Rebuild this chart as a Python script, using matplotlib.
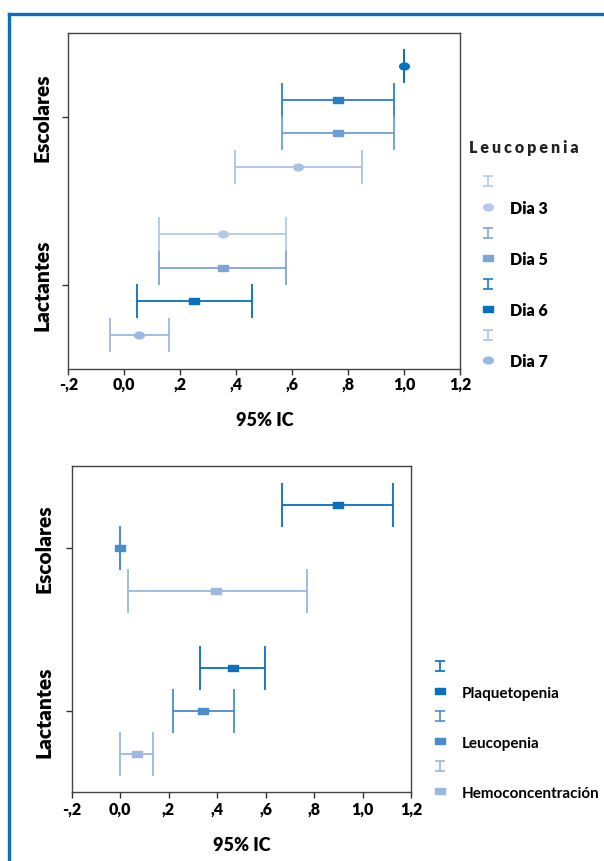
import matplotlib
matplotlib.use("Agg")
import matplotlib.pyplot as plt
from matplotlib.lines import Line2D
from matplotlib.path import Path
from matplotlib.transforms import Affine2D

# IC 95% por grupo de edad (arriba: leucopenia por dia, abajo: por hallazgo)
categories = ["Lactantes", "Escolares"]
x_ticks = [-0.2, 0.0, 0.2, 0.4, 0.6, 0.8, 1.0, 1.2]
x_tick_labels = ["-,2", "0,0", ",2", ",4", ",6", ",8", "1,0", "1,2"]

top_group = ["Escolares"] * 4 + ["Lactantes"] * 4
top_dia = ["Dia 7", "Dia 6", "Dia 5", "Dia 3", "Dia 3", "Dia 5", "Dia 6", "Dia 7"]
top_est = [1.0, 0.763, 0.763, 0.621, 0.351, 0.351, 0.249, 0.051]
top_lo = [1.0, 0.564, 0.564, 0.394, 0.123, 0.123, 0.044, -0.052]
top_hi = [1.0, 0.962, 0.962, 0.847, 0.576, 0.576, 0.456, 0.158]
top_legend = ["Dia 3", "Dia 5", "Dia 6", "Dia 7"]

bot_group = ["Escolares"] * 3 + ["Lactantes"] * 3
bot_hallazgo = ["Plaquetopenia", "Leucopenia", "Hemoconcentración"] * 2
bot_est = [0.898, 0.0, 0.397, 0.465, 0.344, 0.069]
bot_lo = [0.670, 0.0, 0.032, 0.330, 0.219, 0.0]
bot_hi = [1.125, 0.0, 0.771, 0.596, 0.468, 0.134]
bot_legend = ["Plaquetopenia", "Leucopenia", "Hemoconcentración"]

# estilos
rect = Path([(-1, -0.6), (1, -0.6), (1, 0.6), (-1, 0.6), (-1, -0.6)],
            [Path.MOVETO, Path.LINETO, Path.LINETO, Path.LINETO, Path.CLOSEPOLY])
oval = Path.unit_circle().transformed(Affine2D().scale(1, 0.7))
ibeam = Path([(-1, 1), (1, 1), (0, 1), (0, -1), (-1, -1), (1, -1)],
             [Path.MOVETO, Path.LINETO, Path.MOVETO, Path.LINETO, Path.MOVETO, Path.LINETO])

top_row_colors = ["#0a6fbd", "#2a80c8", "#6c9fd8", "#a9c3e6",
                  "#b3cae9", "#7fa5d8", "#0a6fbd", "#9bb8e2"]
top_row_markers = [oval, rect, rect, oval, oval, rect, rect, oval]
top_offsets = [0.3, 0.1, -0.1, -0.3] * 2
top_leg_cap = ["#b3cae9", "#7fa5d8", "#1f7cc4", "#a9c3e6"]
top_leg_mark = ["#b3cae9", "#7fa5d8", "#0a6fbd", "#9bb8e2"]
top_leg_shape = [oval, rect, rect, oval]

bot_colors = {"Plaquetopenia": "#0a6fbd", "Leucopenia": "#4a8ccc", "Hemoconcentración": "#9ab8e0"}
bot_offsets = [0.265, 0.0, -0.265] * 2

font = ["Lato", "DejaVu Sans"]

fig = plt.figure(figsize=(6.04, 8.62), dpi=100)

# marco azul
fig.add_artist(Line2D([8.5 / 604, 8.5 / 604], [0, 1 - 15 / 862], color="#0a6fbd", lw=2.4))
fig.add_artist(Line2D([8.5 / 604, 1], [1 - 15 / 862, 1 - 15 / 862], color="#0a6fbd", lw=2.4))


def style_axes(ax, tick_size, cat_size, label_size, cat_pad, tick_pad, lab_pad):
    ax.set_xlim(-0.2, 1.2)
    ax.set_ylim(-0.5, 1.5)
    ax.set_xticks(x_ticks)
    ax.set_xticklabels(x_tick_labels, fontsize=tick_size, fontweight="heavy", family=font)
    ax.set_yticks([0, 1])
    ax.set_yticklabels(categories, rotation=90, va="center", fontsize=cat_size,
                       fontweight="heavy", family=font)
    ax.tick_params(axis="x", length=4, width=1, color="#333333", pad=tick_pad)
    ax.tick_params(axis="y", length=4, width=1, color="#333333", pad=cat_pad)
    ax.set_xlabel("95% IC", fontsize=label_size, fontweight="heavy", family=font, labelpad=lab_pad)
    for s in ax.spines.values():
        s.set_color("#444444")
        s.set_linewidth(1.0)


# panel superior
ax1 = fig.add_axes([0.1131, 0.5713, 0.6493, 0.3898])
for i in range(len(top_est)):
    y = categories.index(top_group[i]) + top_offsets[i]
    ax1.errorbar(top_est[i], y, xerr=[[top_est[i] - top_lo[i]], [top_hi[i] - top_est[i]]],
                 fmt="none", ecolor=top_row_colors[i], elinewidth=1.3, capsize=12.2, capthick=1.3)
    ax1.plot(top_est[i], y, marker=top_row_markers[i], markersize=7, color=top_row_colors[i],
             linestyle="none")
style_axes(ax1, 11.5, 15, 13, 8, 1, 14)

handles, labels = [], []
for j, lab in enumerate(top_legend):
    handles.append(Line2D([], [], marker=ibeam, markersize=7.5, markerfacecolor="none",
                          markeredgecolor=top_leg_cap[j], markeredgewidth=1.2, linestyle="none"))
    labels.append("")
    handles.append(Line2D([], [], marker=top_leg_shape[j], markersize=7, color=top_leg_mark[j],
                          linestyle="none"))
    labels.append(lab)
fig.legend(handles, labels, loc="upper left", bbox_to_anchor=(472 / 604, 1 - 167 / 862),
           frameon=False, handlelength=1.0, handletextpad=0.9, labelspacing=0.6,
           borderpad=0, prop={"family": font, "weight": "heavy", "size": 11.5})
fig.text(469 / 604, 1 - 148 / 862, "\u2009\u200a".join("Leucopenia"), fontsize=11.5,
         fontweight="heavy", family=font, va="center", ha="left", color="#222222")

# panel inferior
ax2 = fig.add_axes([0.1184, 0.0795, 0.5621, 0.3782])
for i in range(len(bot_est)):
    y = categories.index(bot_group[i]) + bot_offsets[i]
    c = bot_colors[bot_hallazgo[i]]
    ax2.errorbar(bot_est[i], y, xerr=[[bot_est[i] - bot_lo[i]], [bot_hi[i] - bot_est[i]]],
                 fmt="none", ecolor=c, elinewidth=1.3, capsize=16, capthick=1.3)
    ax2.plot(bot_est[i], y, marker=rect, markersize=7.5, color=c, linestyle="none")
style_axes(ax2, 11.5, 15, 13, 9, 2, 14)

handles, labels = [], []
for lab in bot_legend:
    handles.append(Line2D([], [], marker=ibeam, markersize=7.5, markerfacecolor="none",
                          markeredgecolor=bot_colors[lab], markeredgewidth=1.2, linestyle="none"))
    labels.append("")
    handles.append(Line2D([], [], marker=rect, markersize=7, color=bot_colors[lab],
                          linestyle="none"))
    labels.append(lab)
fig.legend(handles, labels, loc="upper left", bbox_to_anchor=(425 / 604, 1 - 654 / 862),
           frameon=False, handlelength=1.0, handletextpad=0.9, labelspacing=0.72,
           borderpad=0, prop={"family": font, "weight": "bold", "size": 11})

fig.savefig("out.png", dpi=100)
